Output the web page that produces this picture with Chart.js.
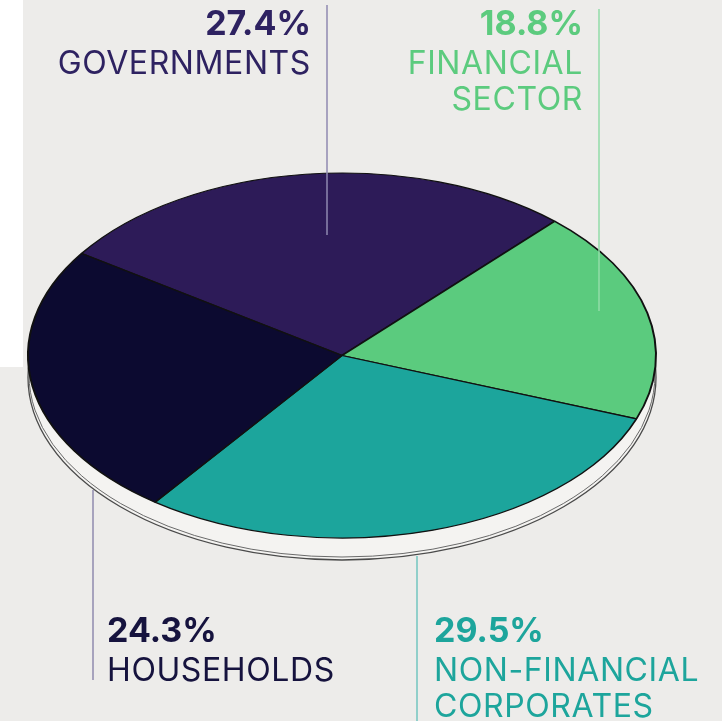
<!DOCTYPE html>
<html>
<head>
<meta charset="utf-8">
<script src="https://cdn.jsdelivr.net/npm/chart.js@4"></script>
<style>
  html, body { margin: 0; padding: 0; }
  body { width: 722px; height: 721px; background: #edecea; position: relative; overflow: hidden; font-family: 'Inter', 'Lato', sans-serif; }
  #corner { position: absolute; left: 0; top: 0; width: 23px; height: 367px; background: #ffffff; }
  #wrap { position: absolute; left: 0; top: 0; width: 722px; height: 721px; }
  .lbl { position: absolute; white-space: nowrap; }
  .lbl .pct { font-size: 34px; line-height: 34px; font-weight: 700; }
  .lbl .name { font-size: 32px; line-height: 36px; font-weight: 400; letter-spacing: 0.6px; margin-top: 5px; }
</style>
</head>
<body>
<div id="corner"></div>
<div id="wrap"><canvas id="pieCanvas" width="722" height="721"></canvas></div>
<div id="labels"></div>
<script>
// data
const categories = ['GOVERNMENTS', 'FINANCIAL SECTOR', 'NON-FINANCIAL CORPORATES', 'HOUSEHOLDS'];
const nameLines = [['GOVERNMENTS'], ['FINANCIAL', 'SECTOR'], ['NON-FINANCIAL', 'CORPORATES'], ['HOUSEHOLDS']];
const shares = [27.4, 18.8, 29.5, 24.3];

// styles
const sliceColors = ['#2d1b58', '#5bcb7e', '#1ca59c', '#0c0a30'];
const textColors = ['#2e2261', '#5ccb7e', '#1da59c', '#16133e'];
const leaderColors = ['#8f8ab0', '#92dca8', '#72c6bf', '#8f8bae'];

// label placement (text anchor + leader line)
const callouts = [
  { align: 'right', x: 311, top: 5.6, lineX: 327, y1: 5, y2: 235 },
  { align: 'right', x: 583, top: 5.6, lineX: 599, y1: 9, y2: 311 },
  { align: 'left', x: 434, top: 612.5, lineX: 417, y1: 556, y2: 721 },
  { align: 'left', x: 107, top: 612.5, lineX: 93, y1: 490, y2: 680 }
];

const FACE_CY = 355.5;
const TILT = 182.5 / 314;
const DEPTH = 22;

// labels as html text
const labelsEl = document.getElementById('labels');
categories.forEach((cat, i) => {
  const c = callouts[i];
  const div = document.createElement('div');
  div.className = 'lbl';
  div.style.color = textColors[i];
  div.style.top = c.top + 'px';
  div.style.textAlign = c.align;
  if (c.align === 'right') div.style.right = (722 - c.x) + 'px';
  else div.style.left = c.x + 'px';
  let html = '<div class="pct">' + shares[i].toFixed(1) + '%</div><div class="name">';
  nameLines[i].forEach(l => { html += '<div>' + l + '</div>'; });
  html += '</div>';
  div.innerHTML = html;
  labelsEl.appendChild(div);
});

const tiltPlugin = {
  id: 'tilt',
  beforeDatasetsDraw(chart) {
    const arc = chart.getDatasetMeta(0).data[0];
    const ctx = chart.ctx;
    const cx = arc.x, cy = arc.y, r = arc.outerRadius;
    ctx.save();
    // side of the disc
    ctx.beginPath();
    ctx.ellipse(cx, FACE_CY + DEPTH, r, r * TILT, 0, 0, Math.PI * 2);
    ctx.fillStyle = '#f4f3f1';
    ctx.fill();
    ctx.lineWidth = 1.3;
    ctx.strokeStyle = '#4a4a4a';
    ctx.stroke();
    ctx.beginPath();
    ctx.ellipse(cx, FACE_CY + DEPTH - 3, r - 1, r * TILT, 0, 0, Math.PI * 2);
    ctx.lineWidth = 1;
    ctx.strokeStyle = '#6a6a6a';
    ctx.stroke();
    // squash the pie into an ellipse
    ctx.translate(cx, FACE_CY);
    ctx.scale(1, TILT);
    ctx.translate(-cx, -cy);
  },
  afterDatasetsDraw(chart) {
    chart.ctx.restore();
    const ctx = chart.ctx;
    ctx.save();
    callouts.forEach((c, i) => {
      ctx.beginPath();
      ctx.moveTo(c.lineX, c.y1);
      ctx.lineTo(c.lineX, c.y2);
      ctx.lineWidth = 1.5;
      ctx.strokeStyle = leaderColors[i];
      ctx.stroke();
    });
    ctx.restore();
  }
};

const ctx = document.getElementById('pieCanvas').getContext('2d');
new Chart(ctx, {
  type: 'pie',
  data: {
    labels: categories,
    datasets: [{
      data: shares,
      backgroundColor: sliceColors,
      borderColor: '#111111',
      borderWidth: 2
    }]
  },
  options: {
    responsive: false,
    animation: false,
    events: [],
    radius: 314,
    rotation: 304,
    layout: { padding: { left: 0, right: 38, top: 0, bottom: 0 } },
    plugins: { legend: { display: false }, tooltip: { enabled: false } }
  },
  plugins: [tiltPlugin]
});
</script>
</body>
</html>
